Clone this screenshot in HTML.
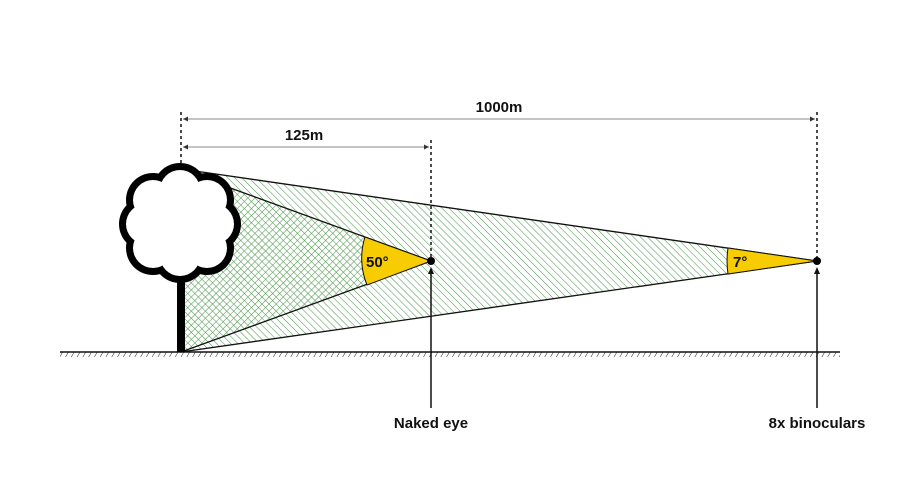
<!DOCTYPE html>
<html><head><meta charset="utf-8"><style>
html,body{margin:0;padding:0;background:#fff;}
svg{display:block;font-family:"Liberation Sans",sans-serif;}
</style></head><body>
<svg width="900" height="500" viewBox="0 0 900 500" xmlns="http://www.w3.org/2000/svg">
<defs>
<pattern id="h1" width="5" height="5" patternUnits="userSpaceOnUse" patternTransform="rotate(-45)">
<rect width="5" height="5" fill="#fff"/><line x1="0" y1="0" x2="0" y2="5" stroke="#4f9a4f" stroke-width="1.1"/>
</pattern>
<pattern id="h2" width="5" height="5" patternUnits="userSpaceOnUse" patternTransform="rotate(45)">
<line x1="0" y1="0" x2="0" y2="5" stroke="#4f9a4f" stroke-width="1.1"/>
</pattern>
<pattern id="g" width="5" height="6" patternUnits="userSpaceOnUse" patternTransform="rotate(30)">
<line x1="0" y1="0" x2="0" y2="6" stroke="#222" stroke-width="1"/>
</pattern>
</defs>
<rect x="60" y="352" width="780" height="5" fill="url(#g)"/>
<line x1="60" y1="352" x2="840" y2="352" stroke="#111" stroke-width="1.5"/>
<polygon points="195,171 817,261 181,352" fill="url(#h1)" stroke="#111" stroke-width="1.3"/>
<polygon points="225,186 431,261 181,352 185,186" fill="url(#h1)"/>
<polygon points="225,186 431,261 181,352 185,186" fill="url(#h2)"/>
<polyline points="225,186 431,261 181,352" fill="none" stroke="#111" stroke-width="1.3"/>
<path d="M431,261 L365,237 A70,70 0 0 0 367,285 Z" fill="#f7cc00" stroke="#111" stroke-width="1"/>
<path d="M817,261 L728,248 A90,90 0 0 0 728,274 Z" fill="#f7cc00" stroke="#111" stroke-width="1"/>
<text x="366" y="267" font-size="15" font-weight="bold" fill="#111">50°</text>
<text x="733" y="267" font-size="15" font-weight="bold" fill="#111">7°</text>
<rect x="177" y="270" width="8" height="82" fill="#000"/>
<g fill="#000">
<circle cx="180" cy="190" r="27"/><circle cx="207" cy="200" r="27"/><circle cx="214" cy="224" r="27"/><circle cx="207" cy="248" r="27"/>
<circle cx="180" cy="256" r="27"/><circle cx="153" cy="248" r="27"/><circle cx="146" cy="224" r="27"/><circle cx="153" cy="200" r="27"/>
</g>
<g fill="#fff">
<circle cx="180" cy="190" r="20"/><circle cx="207" cy="200" r="20"/><circle cx="214" cy="224" r="20"/><circle cx="207" cy="248" r="20"/>
<circle cx="180" cy="256" r="20"/><circle cx="153" cy="248" r="20"/><circle cx="146" cy="224" r="20"/><circle cx="153" cy="200" r="20"/>
<circle cx="180" cy="224" r="36"/>
</g>
<g stroke="#111" stroke-width="1.5" stroke-dasharray="3,3">
<line x1="181" y1="112" x2="181" y2="163"/>
<line x1="431" y1="140" x2="431" y2="258"/>
<line x1="817" y1="112" x2="817" y2="258"/>
</g>
<line x1="183" y1="119" x2="815" y2="119" stroke="#888" stroke-width="1"/>
<line x1="183" y1="147" x2="429" y2="147" stroke="#888" stroke-width="1"/>
<path d="M183,119 l5,-2.5 v5z M815,119 l-5,-2.5 v5z M183,147 l5,-2.5 v5z M429,147 l-5,-2.5 v5z" fill="#333"/>
<text x="499" y="112" font-size="15" font-weight="bold" fill="#111" text-anchor="middle">1000m</text>
<text x="304" y="140" font-size="15" font-weight="bold" fill="#111" text-anchor="middle">125m</text>
<circle cx="431" cy="261" r="4" fill="#000"/>
<circle cx="817" cy="261" r="4" fill="#000"/>
<line x1="431" y1="272" x2="431" y2="408" stroke="#111" stroke-width="1.5"/>
<line x1="817" y1="272" x2="817" y2="408" stroke="#111" stroke-width="1.5"/>
<path d="M431,267 l-3,7 h6z M817,267 l-3,7 h6z" fill="#111"/>
<text x="431" y="428" font-size="15" font-weight="bold" fill="#111" text-anchor="middle">Naked eye</text>
<text x="817" y="428" font-size="15" font-weight="bold" fill="#111" text-anchor="middle">8x binoculars</text>
</svg>
</body></html>
